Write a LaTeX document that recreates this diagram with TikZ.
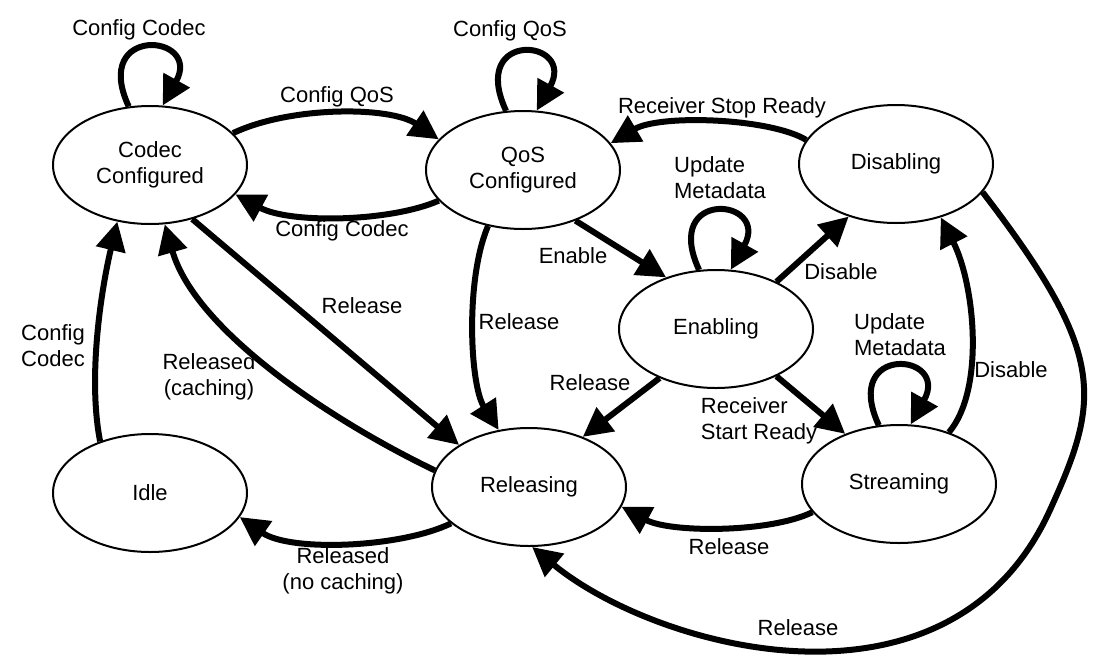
\documentclass[tikz,border=0pt]{standalone}
\usepackage{fontspec}
\setmainfont{Liberation Sans}
\usetikzlibrary{arrows.meta,shapes.geometric}
\begin{document}
\begin{tikzpicture}[x=1pt,y=-1pt,
  state/.style={draw,ellipse,line width=2pt,minimum width=194pt,minimum height=118pt,inner sep=0pt,align=center,font=\fontsize{22}{26}\selectfont},
  tr/.style={line width=6pt,-{Triangle[length=29pt,width=29pt]}},
  lbl/.style={font=\fontsize{22}{26}\selectfont,inner sep=0pt,align=center},
  lbll/.style={lbl,align=left}]
\useasboundingbox (0,0) rectangle (1105,662);
% states
\node[state] (cc)   at (150,165) {Codec\\Configured};
\node[state] (qos)  at (523,170) {QoS\\Configured};
\node[state] (dis)  at (896,164) {Disabling};
\node[state] (enab) at (716,329) {Enabling};
\node[state] (rel)  at (529,487) {Releasing};
\node[state] (str)  at (899,484) {Streaming};
\node[state] (idle) at (150,493) {Idle};
% transitions
\draw[tr] (cc.110) .. controls +(-38,-82) and +(40,-72) .. (cc.78);
\draw[tr] (cc.21) .. controls (290,106) and (390,106) .. (qos.160);
\draw[tr] (qos.200) .. controls (390,222) and (290,224) .. (cc.341);
\draw[tr] (qos.106) .. controls +(-38,-82) and +(40,-72) .. (qos.77);
\draw[tr] (dis.165) .. controls (770,118) and (660,114) .. (qos.17);
\draw[tr] (qos.316) -- (enab.134);
\draw[tr] (enab.106) .. controls +(-38,-82) and +(40,-72) .. (enab.76);
\draw[tr] (enab.38) -- (dis.228);
\draw[tr] (str.46) .. controls (985,390) and (975,285) .. (dis.310);
\draw[tr] (str.109) .. controls +(-38,-82) and +(40,-72) .. (str.79);
\draw[tr] (enab.322) -- (str.137);
\draw[tr] (enab.221) -- (rel.43);
\draw[tr] (qos.238) .. controls (465,280) and (470,385) .. (rel.118);
\draw[tr] (cc.308) -- (rel.149);
\draw[tr] (rel.170) .. controls (330,420) and (195,330) .. (cc.284);
\draw[tr] (idle.134) .. controls (88,380) and (100,295) .. (cc.240);
\draw[tr] (rel.205) .. controls (400,548) and (290,552) .. (idle.345);
\draw[tr] (str.198) .. controls (770,533) and (670,533) .. (rel.348);
\coordinate (j) at (1050,510);
\draw[tr] (dis.342) .. controls (1107,354) and (1101,398) .. (j) .. controls (950,730) and (656,649) .. (rel.273);
% labels
\node[lbl] (l1) at (139,30) {Config Codec};
\node[lbl] (l2) at (337,97) {Config QoS};
\node[lbl] (l3) at (342,231) {Config Codec};
\node[lbl] (l4) at (510,31) {Config QoS};
\node[lbl] (l5) at (722,108) {Receiver Stop Ready};
\node[lbll] (l6) at (720,178) {Update\\Metadata};
\node[lbl] (l7) at (573,256) {Enable};
\node[lbl] (l8) at (841,272) {Disable};
\node[lbl] (l9) at (1011,370) {Disable};
\node[lbll] (l10) at (900,335) {Update\\Metadata};
\node[lbll] (l11) at (759,421) {Receiver\\Start Ready};
\node[lbl] (l12) at (590,383) {Release};
\node[lbl] (l13) at (519,322) {Release};
\node[lbl] (l14) at (362,306) {Release};
\node[lbl] (l15) at (209,377) {Released\\(caching)};
\node[lbll] (l16) at (53,346) {Config\\Codec};
\node[lbl] (l17) at (343,571) {Released\\(no caching)};
\node[lbl] (l18) at (729,547) {Release};
\node[lbl] (l19) at (798,628) {Release};
\end{tikzpicture}
\end{document}
